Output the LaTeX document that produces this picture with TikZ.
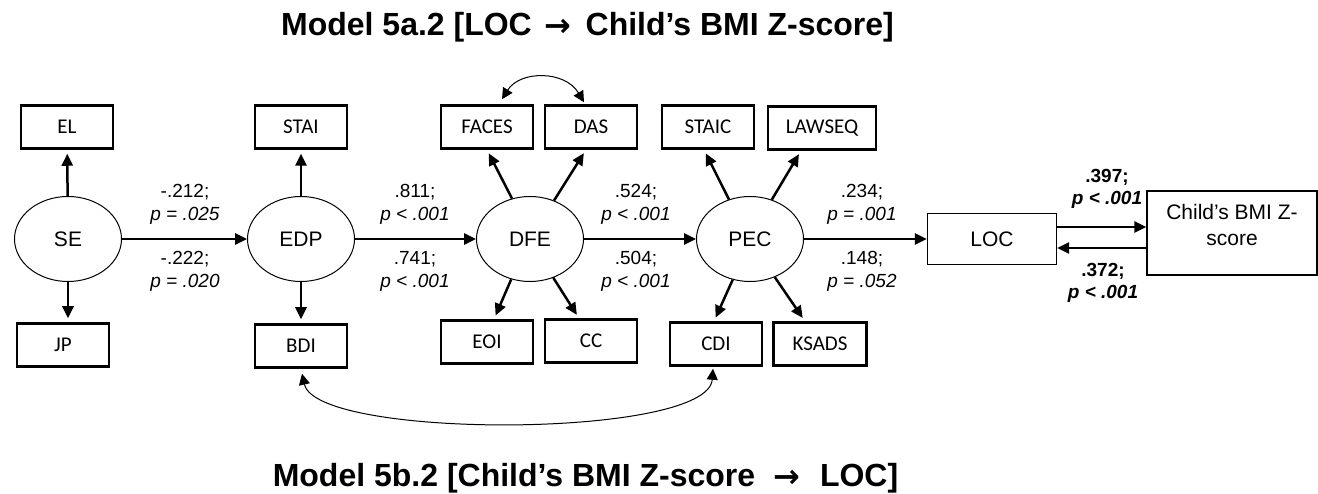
\documentclass[tikz,border=0pt]{standalone}
\usepackage{fontspec}
\setmainfont{Liberation Sans}
\newfontfamily\carlito{Carlito}
\newfontfamily\arrowfont{DejaVu Sans}
\newcommand{\titlearrow}{{\arrowfont\bfseries\raisebox{-1pt}{→}}}
\usetikzlibrary{shapes.geometric,arrows.meta}
\begin{document}
\begin{tikzpicture}[x=1pt,y=-1pt,
  latent/.style={ellipse, draw, line width=1pt, minimum width=107pt, minimum height=85pt, inner sep=0pt, font=\fontsize{21}{25}\selectfont},
  indic/.style={rectangle, draw, line width=2.5pt, minimum width=92pt, minimum height=43pt, inner sep=0pt, font=\carlito\fontsize{21}{24}\selectfont},
  obsbox/.style={rectangle, draw, line width=1.2pt, inner sep=0pt, font=\fontsize{21}{26}\selectfont},
  patharrow/.style={line width=2.5pt, -{Triangle[length=12pt,width=11pt]}},
  loadarrow/.style={patharrow, shorten >=4pt},
  covarc/.style={line width=1pt, {Triangle[length=11pt,width=11pt]}-{Triangle[length=11pt,width=11pt]}},
  coef/.style={font=\fontsize{19}{23}\selectfont, align=center, inner sep=0pt},
  boldcoef/.style={font=\bfseries\fontsize{19}{22}\selectfont, align=center, inner sep=0pt},
  titletext/.style={font=\bfseries\fontsize{32}{38}\selectfont, inner sep=0pt, anchor=base}
]
\useasboundingbox (0,0) rectangle (1318,494);

% titles
\node[titletext] (t1) at (587.5,36) {Model 5a.2 [LOC\hspace{13pt}\titlearrow\hspace{14pt}Child’s BMI Z-score]};
\node[titletext] (t2) at (585.5,486) {Model 5b.2 [Child’s BMI Z-score\hspace{18pt}\titlearrow\hspace{20pt}LOC]};

% latent variables
\node[latent] (SE)  at (68,239)  {SE};
\node[latent] (EDP) at (301,239) {EDP};
\node[latent] (DFE) at (530,239) {DFE};
\node[latent] (PEC) at (750,239) {PEC};

% indicators
\node[indic] (EL)    at (67,127)  {EL};
\node[indic] (JP)    at (63,345)  {JP};
\node[indic] (STAI)  at (301,127) {STAI};
\node[indic] (BDI)   at (301,346) {BDI};
\node[indic] (FACES) at (487,127) {FACES};
\node[indic] (DAS)   at (591,127) {DAS};
\node[indic] (EOI)   at (487,342) {EOI};
\node[indic] (CC)    at (591,341) {CC};
\node[indic] (STAIC) at (708,127) {STAIC};
\node[indic, minimum width=108pt] (LAWSEQ) at (822,128) {LAWSEQ};
\node[indic] (CDI)   at (716,344) {CDI};
\node[indic, minimum width=93pt] (KSADS) at (820,344) {KSADS};

% observed outcome boxes
\node[obsbox, minimum width=129pt, minimum height=51pt] (LOC) at (992,239) {LOC};
\node[obsbox, minimum width=170pt, minimum height=84pt] (BMI) at (1232,233) {};
\node[font=\fontsize{21}{26}\selectfont, align=center, inner sep=0pt] (BMItext) at (1232,225) {Child’s BMI Z-\\score};

% structural paths
\draw[patharrow] (SE) -- (EDP);
\draw[patharrow] (EDP) -- (DFE);
\draw[patharrow] (DFE) -- (PEC);
\draw[patharrow] (PEC) -- (LOC);
\draw[patharrow] ([yshift=12pt]LOC.east) -- ([yshift=12pt]LOC.east -| BMI.west);
\draw[patharrow] ([yshift=-9pt]LOC.east -| BMI.west) -- ([yshift=-9pt]LOC.east);

% loadings
\draw[loadarrow] (SE) -- (EL);
\draw[loadarrow] (SE.south) -- (SE.south |- JP.north);
\draw[loadarrow] (EDP) -- (STAI);
\draw[loadarrow] (EDP) -- (BDI);
\draw[loadarrow] (DFE.114) -- (FACES.south);
\draw[loadarrow] (DFE.58) -- ([xshift=-5pt]DAS.south);
\draw[loadarrow] (DFE.245) -- ([xshift=7pt]EOI.north);
\draw[loadarrow] (DFE.301) -- ([xshift=-12pt]CC.north);
\draw[loadarrow] (PEC.118) -- ([xshift=-4pt]STAIC.south);
\draw[loadarrow] (PEC.61) -- ([xshift=-21pt]LAWSEQ.south);
\draw[loadarrow] (PEC.247) -- ([xshift=-2pt]CDI.north);
\draw[loadarrow] (PEC.303) -- ([xshift=-15pt]KSADS.north);

% covariances
\draw[covarc] ([xshift=15pt,yshift=5pt]FACES.north) .. controls +(18,-29) and +(-19,-32) .. ([xshift=-7pt,yshift=2pt]DAS.north);
\draw[covarc] ([xshift=1pt,yshift=-5pt]BDI.south) .. controls +(15,66) and +(-5,70) .. ([xshift=-3pt,yshift=-2pt]CDI.south);

% coefficients
\node[coef] (c1a) at (185,204.5) {-.212;\\\textit{p = .025}};
\node[coef] (c1b) at (185,271) {-.222;\\\textit{p = .020}};
\node[coef] (c2a) at (415,204.5) {.811;\\\textit{p < .001}};
\node[coef] (c2b) at (415,271) {.741;\\\textit{p < .001}};
\node[coef] (c3a) at (636,204.5) {.524;\\\textit{p < .001}};
\node[coef] (c3b) at (636,271) {.504;\\\textit{p < .001}};
\node[coef] (c4a) at (862,204.5) {.234;\\\textit{p = .001}};
\node[coef] (c4b) at (862,271) {.148;\\\textit{p = .052}};
\node[boldcoef] (c5a) at (1107,189) {.397;\\\textit{p < .001}};
\node[boldcoef] (c5b) at (1103,282.5) {.372;\\\textit{p < .001}};
\end{tikzpicture}
\end{document}
